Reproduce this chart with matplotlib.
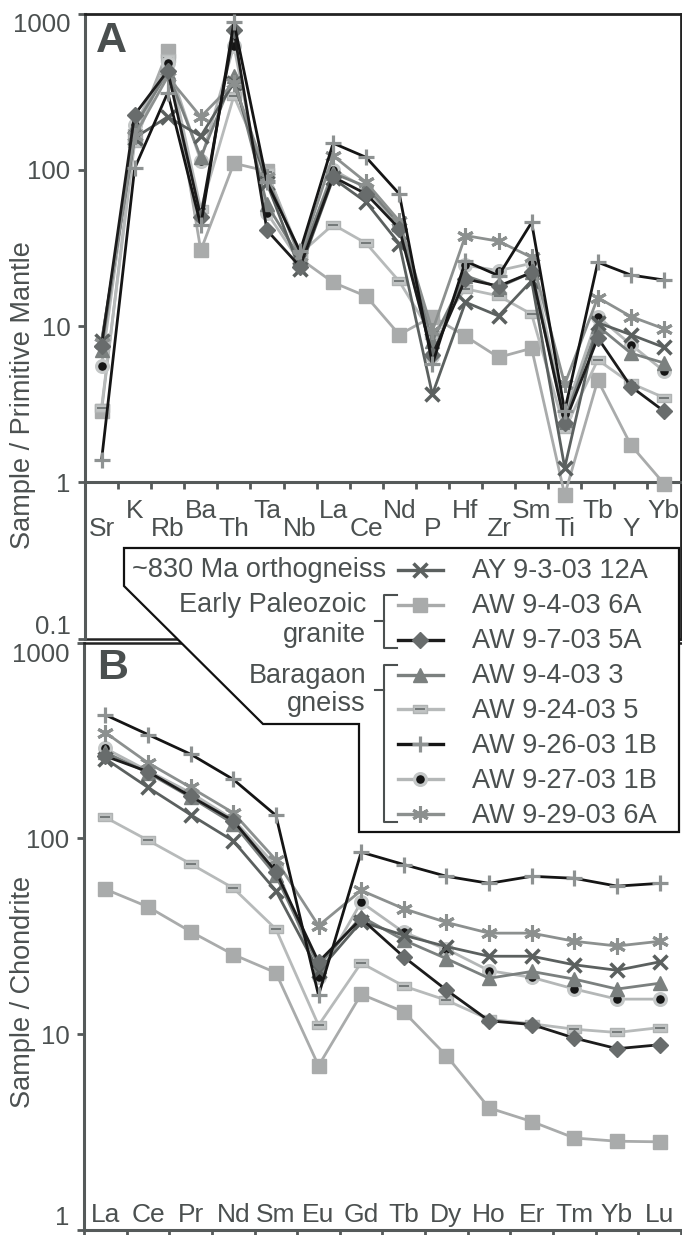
import matplotlib
matplotlib.use("Agg")
import matplotlib.pyplot as plt
from matplotlib.lines import Line2D
from matplotlib.patches import Polygon
from matplotlib.path import Path
import numpy as np

plt.rcParams['font.family'] = ['Liberation Sans', 'DejaVu Sans']

# ---------------- data ----------------
pm_elements = ["Sr", "K", "Rb", "Ba", "Th", "Ta", "Nb", "La", "Ce", "Nd",
               "P", "Hf", "Zr", "Sm", "Ti", "Tb", "Y", "Yb"]
ree_elements = ["La", "Ce", "Pr", "Nd", "Sm", "Eu", "Gd", "Tb", "Dy", "Ho",
                "Er", "Tm", "Yb", "Lu"]

sample_names = ["AY 9-3-03 12A", "AW 9-4-03 6A", "AW 9-7-03 5A", "AW 9-4-03 3",
                "AW 9-24-03 5", "AW 9-26-03 1B", "AW 9-27-03 1B", "AW 9-29-03 6A"]
group_labels = ["~830 Ma orthogneiss", "Early Paleozoic\ngranite", "Baragaon\ngneiss"]

# Primitive-mantle normalised (panel A)
pm_ay_9_3_03_12a = [8.0, 160, 218, 164, 360, 82, 23, 88, 62, 33.6, 3.65, 14.2, 11.6, 19.5, 1.24, 10.5, 8.8, 7.3]
pm_aw_9_4_03_6a = [2.85, 165, 575, 30.5, 110, 98, 27, 19, 15.5, 8.8, 11.5, 8.6, 6.3, 7.2, 0.83, 4.5, 1.73, 0.98]
pm_aw_9_7_03_5a = [7.5, 225, 430, 50, 780, 41, 24, 90, 70, 42, 6.5, 20, 18, 22, 2.4, 8.4, 4.1, 2.85]
pm_aw_9_4_03_3 = [7.0, 190, 420, 120, 400, 60, 27, 95, 78, 45, 8.0, 21, 17.7, 22, 2.5, 10, 6.7, 5.8]
pm_aw_9_24_03_5 = [3.0, 148, 516, 56, 297, 97, 29, 44.6, 33.8, 19.3, 8.7, 17.3, 15.6, 11.9, 2.18, 6.07, 4.3, 3.48]
pm_aw_9_26_03_1b = [1.38, 102, 311, 44, 880, 83, 30, 148, 120, 70, 5.7, 26, 21, 46, 2.86, 25.6, 21.2, 19.7]
pm_aw_9_27_03_1b = [5.55, 193, 480, 114, 620, 53, 25.6, 100, 76, 43.5, 6.4, 24.5, 22.6, 25.2, 2.73, 11.5, 7.6, 5.15]
pm_aw_9_29_03_6a = [7.8, 165, 394, 218, 360, 90, 28, 123, 83, 47, 9.3, 37.9, 34.9, 27.5, 4.24, 15.2, 11.5, 9.6]

# Chondrite normalised REE (panel B)
ree_ay_9_3_03_12a = [255, 182, 132, 97, 54, 21, 37.5, 32, 28, 25, 25, 22.6, 21.2, 23.4]
ree_aw_9_4_03_6a = [55, 44.7, 33.4, 25.5, 20.6, 6.9, 16, 13, 7.76, 4.2, 3.58, 2.95, 2.84, 2.82]
ree_aw_9_7_03_5a = [263, 219, 164, 123, 67.6, 23.4, 38.9, 24.8, 16.8, 11.7, 11.2, 9.55, 8.43, 8.83]
ree_aw_9_4_03_3 = [275, 216, 162, 119, 64.6, 22.4, 39.8, 30.2, 24.3, 19.3, 20.9, 19.1, 17, 18.2]
ree_aw_9_24_03_5 = [128, 97.7, 74.1, 55.7, 34.4, 11.1, 23.1, 17.6, 14.9, 11.9, 11.3, 10.6, 10.2, 10.8]
ree_aw_9_26_03_1b = [427, 339, 269, 200, 131, 15.8, 85, 73.5, 64, 58.9, 64, 62.5, 57, 58.9]
ree_aw_9_27_03_1b = [288, 221, 171, 125, 72.4, 19.7, 47.2, 33.1, 27.2, 21.1, 19.5, 17, 15.1, 15.1]
ree_aw_9_29_03_6a = [347, 243, 182, 135, 77.6, 35.8, 54.2, 43.7, 37.2, 32.8, 32.8, 29.8, 28.2, 29.8]

pm_values = [pm_ay_9_3_03_12a, pm_aw_9_4_03_6a, pm_aw_9_7_03_5a, pm_aw_9_4_03_3,
             pm_aw_9_24_03_5, pm_aw_9_26_03_1b, pm_aw_9_27_03_1b, pm_aw_9_29_03_6a]
ree_values = [ree_ay_9_3_03_12a, ree_aw_9_4_03_6a, ree_aw_9_7_03_5a, ree_aw_9_4_03_3,
              ree_aw_9_24_03_5, ree_aw_9_26_03_1b, ree_aw_9_27_03_1b, ree_aw_9_29_03_6a]

# ---------------- styles ----------------
TXT = '#4b5050'
SPINE = '#555a5a'
DARK = '#222222'
dash_marker = Path([(-1, -0.55), (1, -0.55), (1, 0.55), (-1, 0.55), (-1, -0.55)],
                   [Path.MOVETO, Path.LINETO, Path.LINETO, Path.LINETO, Path.CLOSEPOLY])
styles = [
    dict(lc='#5b605f', m='x', ms=10, mfc='#5b605f', mec='#5b605f', mew=2.5, z=5),
    dict(lc='#a9abab', m='s', ms=9.5, mfc='#a9abab', mec='#a9abab', mew=1, z=3),
    dict(lc='#1c1c1c', m='D', ms=8, mfc='#686c6c', mec='#686c6c', mew=1, z=6),
    dict(lc='#7b807f', m='^', ms=9.5, mfc='#7b807f', mec='#7b807f', mew=1, z=4.5),
    dict(lc='#b7baba', m=dash_marker, ms=10.5, mfc='#c0c3c3', mec='#b0b3b3', mew=1, z=3.5,
         m2='_', ms2=7.5, c2='#6e7373', mew2=1.3),
    dict(lc='#151515', m='+', ms=11, mfc='#8e9292', mec='#8e9292', mew=2.3, z=7),
    dict(lc='#b4b7b7', m='o', ms=8.5, mfc='#151515', mec='#c4c7c7', mew=2.3, z=4),
    dict(lc='#8c908f', m=(6, 2, 0), ms=12, mfc='#8c908f', mec='#8c908f', mew=2.2, z=5.5),
]

W, H = 682, 1235
fig = plt.figure(figsize=(W / 100, H / 100), dpi=100)


def fx(x):
    return x / W


def fy(y):
    return 1 - y / H


def draw(ax, xs, ys, st):
    ax.plot(xs, ys, color=st['lc'], lw=2.0, marker=st['m'], ms=st['ms'],
            mfc=st['mfc'], mec=st['mec'], mew=st['mew'], zorder=st['z'], clip_on=False)
    if 'm2' in st:
        ax.plot(xs, ys, ls='none', marker=st['m2'], ms=st['ms2'], color=st['c2'],
                mew=st['mew2'], zorder=st['z'] + 0.05, clip_on=False)


# ---------------- panel A ----------------
ax1 = fig.add_axes([fx(85), fy(638.5), fx(680.5) - fx(85), fy(13.5) - fy(638.5)])
ax1.set_yscale('log')
ax1.set_ylim(0.1, 1000)
ax1.set_xlim(-0.5, len(pm_elements) - 0.5)
xa = np.arange(len(pm_elements))
for vals, st in zip(pm_values, styles):
    draw(ax1, xa, vals, st)

ax1.spines['bottom'].set_position(('data', 1))
ax1.spines['bottom'].set_color(SPINE)
ax1.spines['bottom'].set_linewidth(2.2)
ax1.spines['left'].set_color(SPINE)
ax1.spines['left'].set_linewidth(2.2)
for s in ('top', 'right'):
    ax1.spines[s].set_color(DARK)
    ax1.spines[s].set_linewidth(2.0)
ax1.axhline(0.1, color=DARK, lw=1.8, clip_on=False, zorder=2.5)
ax1.set_xticks(np.arange(0.5, len(pm_elements) - 0.5, 1))
ax1.tick_params(axis='x', direction='out', length=5, width=2, color=SPINE, labelbottom=False)
ax1.set_yticks([0.1, 1, 10, 100, 1000])
ax1.set_yticklabels(['0.1', '1', '10', '100', '1000'])
ax1.yaxis.set_minor_locator(matplotlib.ticker.NullLocator())
ax1.tick_params(axis='y', direction='out', length=5, width=2, color=SPINE,
                labelsize=18.5, labelcolor=TXT, pad=5.5)
ylabs = ax1.get_yticklabels()
ylabs[0].set_va('bottom')
ylabs[-1].set_va('top')
for i, el in enumerate(pm_elements):
    ax1.text(i, 0.453 if i % 2 == 0 else 0.59, el, ha='center', va='baseline',
             fontsize=19, color=TXT, zorder=2)

# ---------------- panel B ----------------
ax2 = fig.add_axes([fx(84), fy(1230), fx(681) - fx(84), fy(642.5) - fy(1230)])
ax2.set_yscale('log')
ax2.set_ylim(1, 1000)
ax2.set_xlim(-0.5, len(ree_elements) - 0.5)
xb = np.arange(len(ree_elements))
for vals, st in zip(ree_values, styles):
    draw(ax2, xb, vals, st)
ax2.spines['right'].set_visible(False)
ax2.spines['top'].set_color(DARK)
ax2.spines['top'].set_linewidth(1.8)
for s in ('left', 'bottom'):
    ax2.spines[s].set_color(SPINE)
    ax2.spines[s].set_linewidth(2.2)
ax2.set_xticks(np.arange(-0.5, len(ree_elements), 1))
ax2.tick_params(axis='x', direction='out', length=5, width=2, color=SPINE, labelbottom=False)
ax2.set_yticks([1, 10, 100, 1000])
ax2.set_yticklabels(['1', '10', '100', '1000'])
ax2.yaxis.set_minor_locator(matplotlib.ticker.NullLocator())
ax2.tick_params(axis='y', direction='out', length=5, width=2, color=SPINE,
                labelsize=18.5, labelcolor=TXT, pad=5.5)
ylabs2 = ax2.get_yticklabels()
ylabs2[0].set_va('bottom')
ylabs2[-1].set_va('top')
for i, el in enumerate(ree_elements):
    ax2.text(i, 1.10, el, ha='center', va='baseline', fontsize=19, color=TXT, zorder=2)

# axis titles & panel letters
fig.text(fx(23.5), fy(395), 'Sample / Primitive Mantle', rotation=90, ha='center',
         va='center', fontsize=19.5, color=TXT)
fig.text(fx(23.5), fy(992), 'Sample / Chondrite', rotation=90, ha='center',
         va='center', fontsize=19.5, color=TXT)
fig.text(fx(96), fy(52), 'A', fontsize=31, fontweight='bold', color='#4a4f4f',
         ha='left', va='baseline')
fig.text(fx(97), fy(679), 'B', fontsize=31, fontweight='bold', color='#4a4f4f',
         ha='left', va='baseline')

# ---------------- legend ----------------
poly = [(124, 548), (679, 548), (679, 832), (359, 832), (359, 724), (263, 724), (124, 586)]
fig.add_artist(Polygon([(fx(a), fy(b)) for a, b in poly], closed=True,
                       transform=fig.transFigure, fc='white', ec='#111111', lw=1.6, zorder=10))

row_base = [578.5 + 34.86 * i for i in range(len(sample_names))]
for i, (name, st) in enumerate(zip(sample_names, styles)):
    yc = row_base[i] - 8.5
    fig.add_artist(Line2D([fx(398), fx(443)], [fy(yc), fy(yc)], color=st['lc'], lw=2.4,
                          transform=fig.transFigure, zorder=11))
    fig.add_artist(Line2D([fx(420)], [fy(yc)], ls='none', marker=st['m'], ms=st['ms'],
                          mfc=st['mfc'], mec=st['mec'], mew=st['mew'],
                          transform=fig.transFigure, zorder=11.5))
    if 'm2' in st:
        fig.add_artist(Line2D([fx(420)], [fy(yc)], ls='none', marker=st['m2'], ms=st['ms2'],
                              color=st['c2'], mew=st['mew2'],
                              transform=fig.transFigure, zorder=11.6))
    fig.text(fx(472), fy(row_base[i]), name, ha='left', va='baseline', fontsize=19.5,
             color=TXT, zorder=12)

g0 = group_labels[0]
g1a, g1b = group_labels[1].split('\n')
g2a, g2b = group_labels[2].split('\n')
fig.text(fx(386), fy(577), g0, ha='right', va='baseline', fontsize=19.5, color=TXT, zorder=12)
fig.text(fx(366), fy(612), g1a, ha='right', va='baseline', fontsize=19.5, color=TXT, zorder=12)
fig.text(fx(366), fy(642), g1b, ha='right', va='baseline', fontsize=19.5, color=TXT, zorder=12)
fig.text(fx(366), fy(683), g2a, ha='right', va='baseline', fontsize=19.5, color=TXT, zorder=12)
fig.text(fx(366), fy(711), g2b, ha='right', va='baseline', fontsize=19.5, color=TXT, zorder=12)

# brackets
for top, bot, mid in [(595, 648, 621), (665, 822, 690)]:
    xs = [fx(397), fx(384), fx(384), fx(397)]
    ys = [fy(top), fy(top), fy(bot), fy(bot)]
    fig.add_artist(Line2D(xs, ys, color=TXT, lw=1.5, transform=fig.transFigure, zorder=11))
    fig.add_artist(Line2D([fx(375), fx(384)], [fy(mid), fy(mid)], color=TXT, lw=1.5,
                          transform=fig.transFigure, zorder=11))

fig.savefig('out.png', dpi=100)
